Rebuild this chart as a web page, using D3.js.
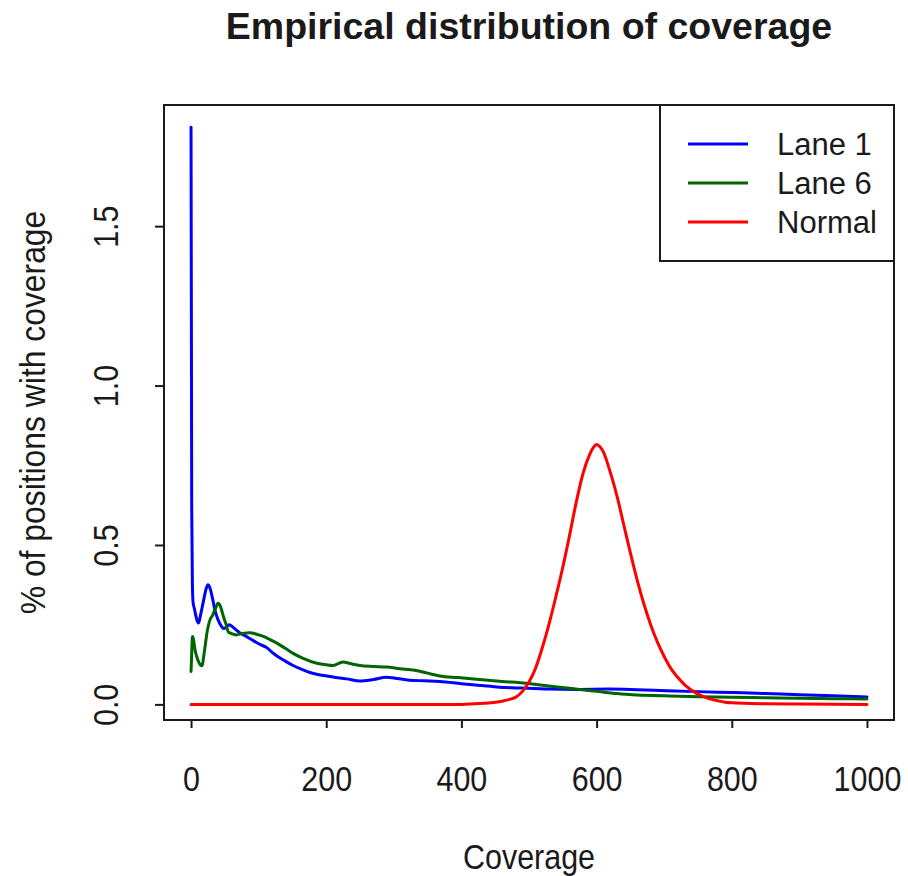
<!DOCTYPE html>
<html><head><meta charset="utf-8">
<script src="https://cdn.jsdelivr.net/npm/d3@7"></script>
<style>body{margin:0;background:#fff}</style>
</head><body>
<svg id="chart" width="908" height="876"></svg>
<script>
// ---- data ----
const lane1X = [0,1,2,3,5,8,11,14,18,22,25,28,32,36,40,45,48,52,56,60,66,72,82,92,100,112,120,127,140,151,165,176,190,210,230,250,270,289,300,323,345,368,400,430,456,490,530,570,619,660,703,750,801,850,900,950,1000];
const lane1Values = [1.81,0.62,0.38,0.32,0.30,0.27,0.255,0.28,0.32,0.36,0.375,0.365,0.33,0.29,0.265,0.245,0.238,0.242,0.25,0.246,0.235,0.225,0.213,0.2,0.19,0.178,0.163,0.152,0.135,0.122,0.109,0.100,0.093,0.086,0.080,0.073,0.078,0.085,0.083,0.076,0.074,0.072,0.065,0.059,0.054,0.051,0.048,0.047,0.048,0.046,0.043,0.040,0.037,0.034,0.030,0.027,0.023];

const lane6X = [0,1,2,3,6,10,14,16,20,24,28,32,36,40,43,46,48,52,55,60,67,75,87,97,107,117,127,140,151,165,186,200,210,218,225,232,240,250,270,289,309,331,350,368,395,422,460,496,520,545,575,604,630,653,700,752,800,850,900,950,1000];
const lane6Values = [0.103,0.16,0.213,0.21,0.17,0.14,0.123,0.121,0.17,0.23,0.265,0.28,0.30,0.317,0.31,0.29,0.275,0.25,0.228,0.222,0.218,0.222,0.225,0.22,0.213,0.203,0.192,0.175,0.160,0.145,0.129,0.124,0.122,0.128,0.133,0.130,0.126,0.122,0.119,0.117,0.112,0.107,0.098,0.089,0.084,0.079,0.072,0.066,0.060,0.054,0.047,0.040,0.034,0.030,0.027,0.024,0.022,0.021,0.019,0.018,0.017];

const normalX = [0,400,420,440,460,470,480,490,500,510,520,530,540,550,560,570,580,590,595,600,605,610,620,630,640,650,660,670,680,690,700,710,720,730,740,750,760,770,780,790,800,850,900,1000];
const normalValues = [0,0,0.002,0.004,0.010,0.015,0.022,0.040,0.070,0.115,0.180,0.255,0.340,0.430,0.530,0.635,0.725,0.785,0.805,0.815,0.808,0.792,0.730,0.655,0.565,0.475,0.390,0.315,0.250,0.195,0.150,0.112,0.085,0.062,0.045,0.032,0.023,0.016,0.011,0.007,0.005,0.002,0.001,0];

const seriesNames = ["Lane 1","Lane 6","Normal"];
const seriesColors = ["#0000ff","#006400","#ff0000"];
const xTicks = [0,200,400,600,800,1000];
const yTicks = [0,0.5,1.0,1.5];
const titleText = "Empirical distribution of coverage";
const xLabel = "Coverage";
const yLabel = "% of positions with coverage";

// ---- drawing ----
const svg = d3.select("#chart");
const font = "'Liberation Sans', Arial, Helvetica, sans-serif";
const ink = "#1a1a1a";
const pL = 164, pR = 894, pT = 105, pB = 720;
const x = d3.scaleLinear().domain([-40,1040]).range([pL,pR]);
const y = d3.scaleLinear().domain([-0.049,1.88]).range([pB,pT]);

svg.append("rect").attr("width",908).attr("height",876).attr("fill","#fff");

// title
svg.append("text").attr("x",(pL+pR)/2).attr("y",39)
  .attr("text-anchor","middle").attr("font-family",font)
  .attr("font-weight","bold").attr("font-size",37.5).attr("fill",ink)
  .text(titleText);

// series
const series = [
  {xs: lane1X, ys: lane1Values},
  {xs: lane6X, ys: lane6Values},
  {xs: normalX, ys: normalValues}
];
const line = d3.line().x(d => x(d[0])).y(d => y(d[1])).curve(d3.curveMonotoneX);
series.forEach((s,i) => {
  const pts = s.xs.map((v,j) => [v, s.ys[j]]);
  svg.append("path").datum(pts).attr("d",line)
    .attr("fill","none").attr("stroke",seriesColors[i])
    .attr("stroke-width",3).attr("stroke-linejoin","round").attr("stroke-linecap","round");
});

// frame
svg.append("rect").attr("x",pL).attr("y",pT).attr("width",pR-pL).attr("height",pB-pT)
  .attr("fill","none").attr("stroke",ink).attr("stroke-width",2);

// x axis
const gx = svg.append("g").attr("transform",`translate(0,${pB})`)
  .call(d3.axisBottom(x).tickValues(xTicks).tickSize(8).tickFormat(d3.format("d")));
gx.select(".domain").remove();
gx.selectAll(".tick line").attr("stroke",ink).attr("stroke-width",2);
gx.selectAll(".tick text").attr("y",71).attr("dy",null)
  .attr("font-family",font).attr("font-size",35).attr("fill",ink)
  .attr("transform","scale(0.87,1)");

// y axis
const gy = svg.append("g").attr("transform",`translate(${pL},0)`)
  .call(d3.axisLeft(y).tickValues(yTicks).tickSize(9).tickFormat(d3.format(".1f")));
gy.select(".domain").remove();
gy.selectAll(".tick line").attr("stroke",ink).attr("stroke-width",2);
gy.selectAll(".tick text").attr("x",0).attr("y",0).attr("dy",null)
  .attr("text-anchor","middle")
  .attr("font-family",font).attr("font-size",35).attr("fill",ink)
  .attr("transform","translate(-46,0) rotate(-90) scale(0.87,1)");

// axis labels
svg.append("text").attr("transform",`translate(${(pL+pR)/2},869) scale(0.87,1)`)
  .attr("text-anchor","middle").attr("font-family",font).attr("font-size",35).attr("fill",ink)
  .text(xLabel);
svg.append("text").attr("transform",`translate(45,${(pT+pB)/2}) rotate(-90) scale(0.91,1)`)
  .attr("text-anchor","middle").attr("font-family",font).attr("font-size",35).attr("fill",ink)
  .text(yLabel);

// legend
const lg = svg.append("g");
lg.append("rect").attr("x",660).attr("y",pT).attr("width",pR-660).attr("height",156)
  .attr("fill","#fff").attr("stroke",ink).attr("stroke-width",2);
seriesNames.forEach((n,i) => {
  const cy = 144 + i*39;
  lg.append("line").attr("x1",688).attr("x2",748).attr("y1",cy).attr("y2",cy)
    .attr("stroke",seriesColors[i]).attr("stroke-width",3);
  lg.append("text").attr("x",777).attr("y",cy+11)
    .attr("font-family",font).attr("font-size",31).attr("fill",ink).text(n);
});
</script>
</body></html>
